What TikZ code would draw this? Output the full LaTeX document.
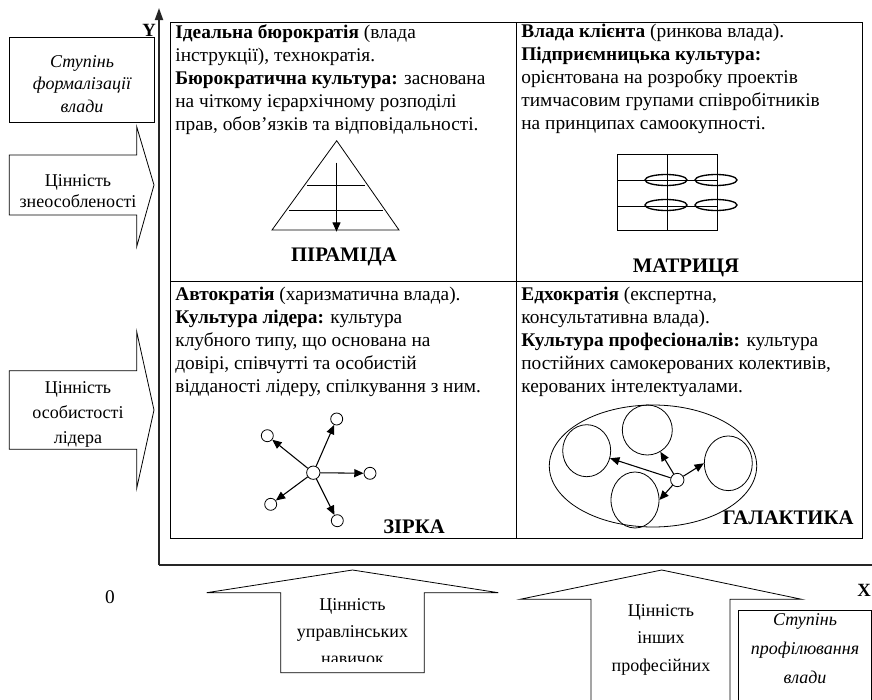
\documentclass[tikz,border=0pt]{standalone}
\usepackage{fontspec}
\setmainfont{Liberation Serif}
\usetikzlibrary{calc, shapes, arrows.meta}

\begin{document}
\begin{tikzpicture}[
		x = 0.75pt, y = -0.75pt,
		line width = 0.6pt,
		every node/.style = {inner sep = 0pt, font = \fontsize{14.5}{17.25}\selectfont},
		quad/.style = {anchor = north west, align = left},
		side/.style = {align = center},
		title/.style = {font = \fontsize{15.5}{17}\selectfont\bfseries},
		axis/.style = {line width = 1.4pt, draw = black!85, -{Triangle[length = 9pt, width = 6pt]}},
		dot/.style = {draw, circle, minimum size = 9pt, fill = white},
		gal/.style = {draw, ellipse, minimum width = 36pt, minimum height = 40pt},
		pt/.style = {-{Triangle[length = 7pt, width = 6pt]}, line width = 0.8pt}
		]
		\clip (0,0) rectangle (872,700);
		
		% axes
		\coordinate (O) at (159,565);
		\draw[axis] (O) -- (159,8);
		\draw[axis] (O) -- (884,565);
		\node[font = \fontsize{14}{16}\selectfont\bfseries] (Y) at (149,30) {Y};
		\node[font = \fontsize{14}{16}\selectfont\bfseries] (X) at (864,590) {X};
		\node (zero) at (110,597) {0};
		
		% quadrants
		\draw (170,22) rectangle (862,538);
		\draw (516,22) -- (516,538);
		\draw (170,281) -- (862,281);
		
		\node[quad] (TL) at (175,24) {\textbf{Ідеальна бюрократія} (влада\\ інструкції), технократія.\\ \textbf{Бюрократична культура:} заснована\\ на чіткому ієрархічному розподілі\\ прав, обов’язків та відповідальності.};
		\node[quad] (TR) at (521,24) {\textbf{Влада клієнта} (ринкова влада).\\ \textbf{Підприємницька культура:}\\ орієнтована на розробку проектів\\ тимчасовим групами співробітників\\ на принципах самоокупності.};
		\node[quad] (BL) at (175,287) {\textbf{Автократія} (харизматична влада).\\ \textbf{Культура лідера:} культура\\ клубного типу, що основана на\\ довірі, співчутті та особистій\\ відданості лідеру, спілкування з ним.};
		\node[quad] (BR) at (521,287) {\textbf{Едхократія} (експертна,\\ консультативна влада).\\ \textbf{Культура професіоналів:} культура\\ постійних самокерованих колективів,\\ керованих інтелектуалами.};
		
		% pyramid
		\draw (336.7,140.7) -- (399,230) -- (272,230) -- cycle;
		\draw (307,185.7) -- (365,185.7);
		\draw (289,210.7) -- (383,210.7);
		\draw[pt] (336.5,162.7) -- (336.5,231.7);
		\node[title] (pyr) at (344,257) {ПІРАМІДА};
		
		% matrix
		\draw (617,154.3) rectangle (717,230.7);
		\draw (667,154.3) -- (667,230.7);
		\draw (617,180.7) -- (717,180.7);
		\draw (617,206) -- (717,206);
		\foreach \mx in {666,716}
			\foreach \my in {180,205}
				\draw[line width = 1pt] (\mx,\my) ellipse [x radius = 21, y radius = 5.5];
		\node[title] (mat) at (686,268.3) {МАТРИЦЯ};
		
		% star
		\node[dot, minimum size = 10pt] (c) at (313.3,472.7) {};
		\node[dot] (s1) at (267.3,435.7) {};
		\node[dot] (s2) at (336.7,419) {};
		\node[dot] (s3) at (370,473.3) {};
		\node[dot] (s4) at (270.7,504.3) {};
		\node[dot] (s5) at (337.3,520.7) {};
		\foreach \s in {s1,s2,s3,s4,s5}
			\draw[pt] (c) -- (\s);
		\node[title] (star) at (414,527) {ЗІРКА};
		
		% galaxy
		\draw (653,466) ellipse [x radius = 103.7, y radius = 61];
		\node[gal, minimum height = 39pt] (gl) at (586.7,450.7) {};
		\node[gal, minimum width = 37.5pt, minimum height = 37.5pt] (gt) at (647.3,430) {};
		\node[gal, minimum height = 41pt] (gr) at (728.3,463.3) {};
		\node[gal, minimum height = 42pt] (gb) at (635,500) {};
		\node[dot, minimum size = 10pt] (hub) at (677.3,480) {};
		\draw[pt] (hub) -- (gl);
		\draw[pt] (hub) -- (gt);
		\draw[pt] (hub) -- (gr.west);
		\draw[pt] (hub) -- (gb.east);
		\node[title] (gala) at (788,518) {ГАЛАКТИКА};
		
		% left side
		\draw (9.3,37.3) rectangle (154,122.7);
		\node[side, font = \fontsize{13.5}{16.9}\selectfont\itshape] (formal) at (82,84) {Ступінь\\ формалізації\\ влади};
		\draw (9.3,155) -- (136.7,155) -- (136.7,126.7) -- (154,185) -- (136.7,246.7) -- (136.7,215) -- (9.3,215) -- cycle;
		\node[side, font = \fontsize{13.5}{16.3}\selectfont] (imp) at (78,191) {Цінність\\ знеособленості};
		\draw (9.3,370.7) -- (136.7,370.7) -- (136.7,331.7) -- (154,410) -- (136.7,488.3) -- (136.7,449.3) -- (9.3,449.3) -- cycle;
		\node[side, font = \fontsize{13.5}{18.75}\selectfont] (lead) at (78,414) {Цінність\\ особистості\\ лідера};
		
		% bottom side
		\draw (280.7,672.7) -- (280.7,592.7) -- (206.7,592.7) -- (352.5,570) -- (498.3,592.7) -- (424.3,592.7) -- (424.3,672.7) -- cycle;
		\begin{scope}
			\clip (280.7,580) rectangle (424.3,661);
			\node[side, anchor = north, font = \fontsize{13.5}{20.25}\selectfont] (mgmt) at (352.5,598) {Цінність\\ управлінських\\ навичок};
		\end{scope}
		\draw (591,710) -- (591,599.3) -- (520,599.3) -- (661.7,570) -- (801.7,599.3) -- (730,599.3) -- (730,710);
		\node[side, anchor = north, font = \fontsize{13.5}{20.6}\selectfont] (prof) at (661,604) {Цінність\\ інших\\ професійних};
		\draw (738.3,610) rectangle (871,710);
		\node[side, anchor = north, font = \fontsize{13.5}{21.7}\selectfont\itshape] (profil) at (805,613) {Ступінь\\ профілювання\\ влади};
	\end{tikzpicture}
\end{document}
